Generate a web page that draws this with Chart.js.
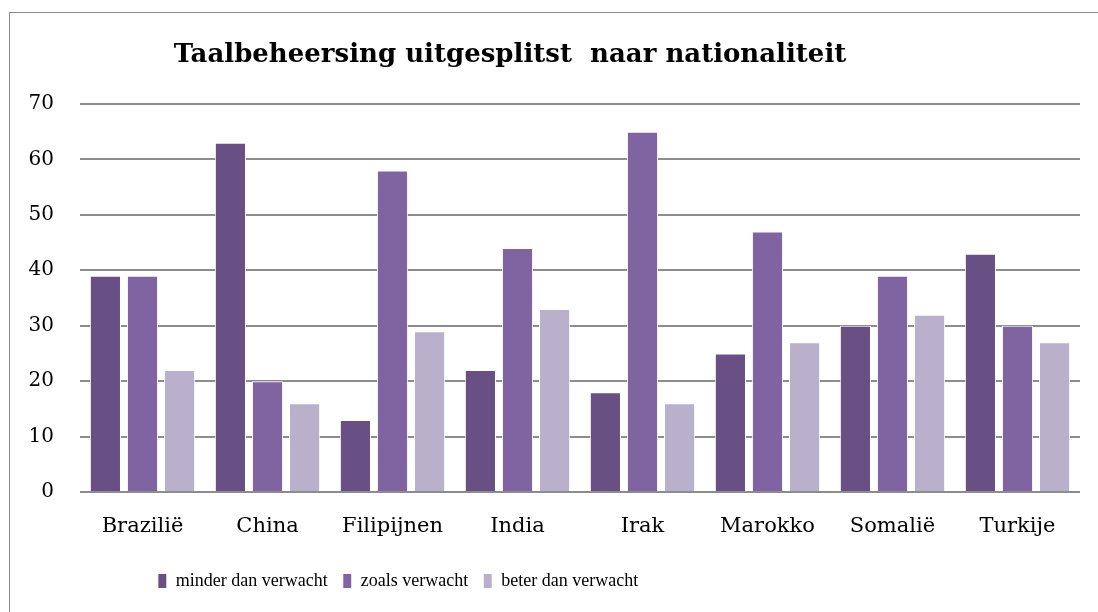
<!DOCTYPE html>
<html>
<head>
<meta charset="utf-8">
<script src="https://cdn.jsdelivr.net/npm/chart.js@4.4.0/dist/chart.umd.min.js"></script>
<style>
  html, body { margin: 0; padding: 0; background: #fff; }
  #wrap { width: 1098px; height: 612px; position: relative; }
</style>
</head>
<body>
<div id="wrap"><canvas id="grafiek" width="1098" height="612"></canvas></div>
<script>
// Taalbeheersing per nationaliteit
const landen = ["Brazilië", "China", "Filipijnen", "India", "Irak", "Marokko", "Somalië", "Turkije"];
const minderDanVerwacht = [39, 63, 13, 22, 18, 25, 30, 43];
const zoalsVerwacht = [39, 20, 58, 44, 65, 47, 39, 30];
const beterDanVerwacht = [22, 16, 29, 33, 16, 27, 32, 27];
const titel = "Taalbeheersing uitgesplitst  naar nationaliteit";

const serif = "'DejaVu Serif', 'Liberation Serif', serif";
const smal = "'Liberation Serif', serif";

// kader, titel en legenda iets naar links
const kader = {
  id: "kader",
  afterLayout(chart) {
    const lg = chart.legend;
    if (lg) { lg.left -= 152; lg.right -= 152; }
  },
  beforeDraw(chart) {
    const ctx = chart.ctx;
    ctx.save();
    ctx.fillStyle = "#fff";
    ctx.fillRect(0, 0, chart.width, chart.height);
    ctx.strokeStyle = "#8a8a8a";
    ctx.lineWidth = 1;
    ctx.strokeRect(9.5, 12.5, 1200, 700);
    ctx.restore();
  },
  afterDraw(chart) {
    const ctx = chart.ctx;
    ctx.save();
    ctx.font = "bold 26px " + serif;
    ctx.fillStyle = "#000";
    ctx.textAlign = "center";
    ctx.textBaseline = "middle";
    ctx.fillText(titel, 510, 55);
    ctx.restore();
  }
};

new Chart(document.getElementById("grafiek"), {
  type: "bar",
  data: {
    labels: landen,
    datasets: [
      { label: "minder dan verwacht", data: minderDanVerwacht, backgroundColor: "#685085", borderColor: "#fff", borderWidth: 1 },
      { label: "zoals verwacht", data: zoalsVerwacht, backgroundColor: "#8064a2", borderColor: "#fff", borderWidth: 1 },
      { label: "beter dan verwacht", data: beterDanVerwacht, backgroundColor: "#b9b0cb", borderColor: "#fff", borderWidth: 1 }
    ]
  },
  options: {
    responsive: false,
    animation: false,
    categoryPercentage: 0.89,
    barPercentage: 0.84,
    layout: { padding: { left: 20, right: 18, top: 104, bottom: 12 } },
    plugins: {
      legend: {
        position: "bottom",
        labels: { font: { family: smal, size: 18 }, color: "#000", boxWidth: 9, boxHeight: 15, padding: 15 }
      },
      tooltip: { enabled: false }
    },
    scales: {
      x: {
        afterFit: s => { s.height = 65; },
        grid: { display: false },
        border: { display: false },
        ticks: { font: { family: serif, size: 21 }, color: "#000", padding: 14 }
      },
      y: {
        min: 0, max: 70,
        afterFit: s => { s.width = 60; },
        grid: { color: "#8c8c8c", lineWidth: 2, drawTicks: false },
        border: { display: false },
        ticks: { stepSize: 10, font: { family: serif, size: 20 }, color: "#000", padding: 26 }
      }
    }
  },
  plugins: [kader]
});
</script>
</body>
</html>
